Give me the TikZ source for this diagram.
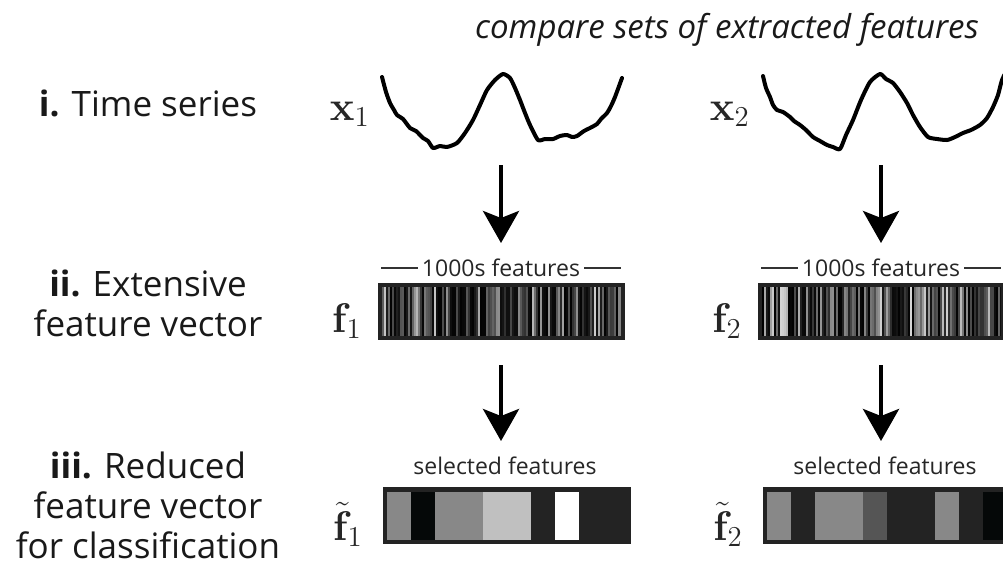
\documentclass[tikz,border=0pt]{standalone}
\usepackage{amsmath}
\usepackage[no-math]{fontspec}
\setmainfont{Open Sans}
\usetikzlibrary{arrows.meta}

\definecolor{framedark}{HTML}{232323}
\definecolor{cellgray}{HTML}{888888}
\definecolor{celllight}{HTML}{C0C0C0}
\definecolor{cellmid}{HTML}{555555}
\definecolor{cellblack}{HTML}{050808}

\tikzset{
    downarrow/.style = {line width = 4pt, -{Stealth[length = 32pt, width = 36pt, inset = 7pt]}},
    series/.style = {line width = 4pt, line join = round, line cap = round},
    rowlabel/.style = {font = \fontsize{35}{40}\selectfont, align = center, text = black!90},
    smalllabel/.style = {font = \fontsize{23}{27}\selectfont, text = black!85, inner sep = 4pt},
    veclabel/.style = {font = \fontsize{20}{24}\selectfont, scale = 2, anchor = base east, inner sep = 0pt, text = black!85},
    featrule/.style = {line width = 1.5pt, black!80},
    vecframe/.style = {line width = 4pt, draw = framedark},
}

\begin{document}
\begin{tikzpicture}[x = 1pt, y = -1pt]
    \clip (0, 0) rectangle (1003, 565);

    \node [font = \itshape\fontsize{33}{38}\selectfont, text = black!90] (title) at (727, 30) {compare sets of extracted features};

    \node [rowlabel] (row1) at (148, 103) {\textbf{i.} Time series};
    \node [rowlabel] (row2) at (148, 303) {\textbf{ii.} Extensive\\feature vector};
    \node [rowlabel] (row3) at (148, 505) {\textbf{iii.} Reduced\\feature vector\\for classification};

    \begin{scope}
        \pgfmathsetseed{11}
        % time series
        \node [veclabel] (x1) at (370, 120) {$\mathbf{x}_1$};
        \draw [series] plot [smooth, tension = 0.4] coordinates {(382,77) (386,92) (390,103) (394,110) (397,115)
            (403,119) (410,128) (416,131) (423,138) (428,141) (433,148) (440,146) (447,147) (457,143)
            (465,133) (473,120) (480,105) (487,90) (495,80) (503,74) (510,78) (515,88) (520,100)
            (525,113) (530,125) (538,140) (545,139) (553,139) (560,136) (567,135) (572,137) (577,136)
            (584,131) (590,128) (597,124) (601,119) (607,113) (611,106) (615,97) (622,78)};
        \coordinate (ts1) at (501, 165);
        \coordinate (tip1) at (501, 243);
        \draw [downarrow] (ts1) -- (tip1);

        % extensive feature vector
        \node [smalllabel] (fs1) at (501, 268) {1000s features};
        \draw [featrule] (fs1.west) -- ++(-37, 0);
        \draw [featrule] (fs1.east) -- ++(37, 0);
        \foreach \i in {0,...,119} {
            \pgfmathsetmacro{\g}{int(100 - 85*rnd^2)}
            \fill [black!\g] (382 + 2*\i, 287) rectangle ++(2.2, 50);
        }
        \draw [vecframe] (380, 285) rectangle (623, 338);
        \node [veclabel] (f1) at (362, 332) {$\mathbf{f}_1$};
        \coordinate (fv1) at (501, 365);
        \coordinate (tip2) at (501, 441);
        \draw [downarrow] (fv1) -- (tip2);

        % reduced feature vector
        \node [smalllabel] (sel1) at (505, 466) {selected features};
        \fill [framedark] (385, 489) rectangle (629, 542);
        \foreach \a/\w/\c in {0/1/cellgray, 1/1/cellblack, 2/2/cellgray, 4/2/celllight, 7/1/white}
            \fill [\c] (387 + 24*\a, 492) rectangle ++(24*\w, 48);
        \draw [vecframe] (385, 489) rectangle (629, 542);
        \node [veclabel] (rf1) at (363, 540) {$\tilde{\mathbf{f}}_1$};
    \end{scope}

    \begin{scope}[xshift = 380pt]
        % time series
        \node [veclabel] (x2) at (370, 120) {$\mathbf{x}_2$};
        \draw [series] plot [smooth, tension = 0.4] coordinates {(383,76) (386,88) (390,97) (393,105) (397,110)
            (403,112) (410,117) (414,121) (420,125) (426,130) (433,137) (440,141) (447,145) (453,147)
            (460,149) (466,135) (473,120) (481,100) (490,82) (500,74) (506,79) (513,83) (520,92)
            (527,103) (533,115) (540,127) (548,137) (557,139) (567,140) (575,137) (583,133) (591,130)
            (600,125) (607,118) (613,107) (618,95) (622,80) (628,68)};
        \coordinate (ts2) at (501, 165);
        \coordinate (tip3) at (501, 243);
        \draw [downarrow] (ts2) -- (tip3);

        % extensive feature vector
        \node [smalllabel] (fs2) at (501, 268) {1000s features};
        \draw [featrule] (fs2.west) -- ++(-37, 0);
        \draw [featrule] (fs2.east) -- ++(37, 0);
        \foreach \i in {0,...,119} {
            \pgfmathsetmacro{\g}{int(100 - 85*rnd^2)}
            \fill [black!\g] (382 + 2*\i, 287) rectangle ++(2.2, 50);
        }
        \draw [vecframe] (380, 285) rectangle (623, 338);
        \node [veclabel] (f2) at (362, 332) {$\mathbf{f}_2$};
        \coordinate (fv2) at (501, 365);
        \coordinate (tip4) at (501, 441);
        \draw [downarrow] (fv2) -- (tip4);

        % reduced feature vector
        \node [smalllabel] (sel2) at (505, 466) {selected features};
        \fill [framedark] (385, 489) rectangle (640, 542);
        \foreach \a/\w/\c in {0/1/cellgray, 2/2/cellgray, 4/1/cellmid, 7/1/cellgray, 9/2/cellblack}
            \fill [\c] (387 + 24*\a, 492) rectangle ++(24*\w, 48);
        \draw [vecframe] (385, 489) rectangle (640, 542);
        \node [veclabel] (rf2) at (363, 540) {$\tilde{\mathbf{f}}_2$};
    \end{scope}
\end{tikzpicture}
\end{document}
